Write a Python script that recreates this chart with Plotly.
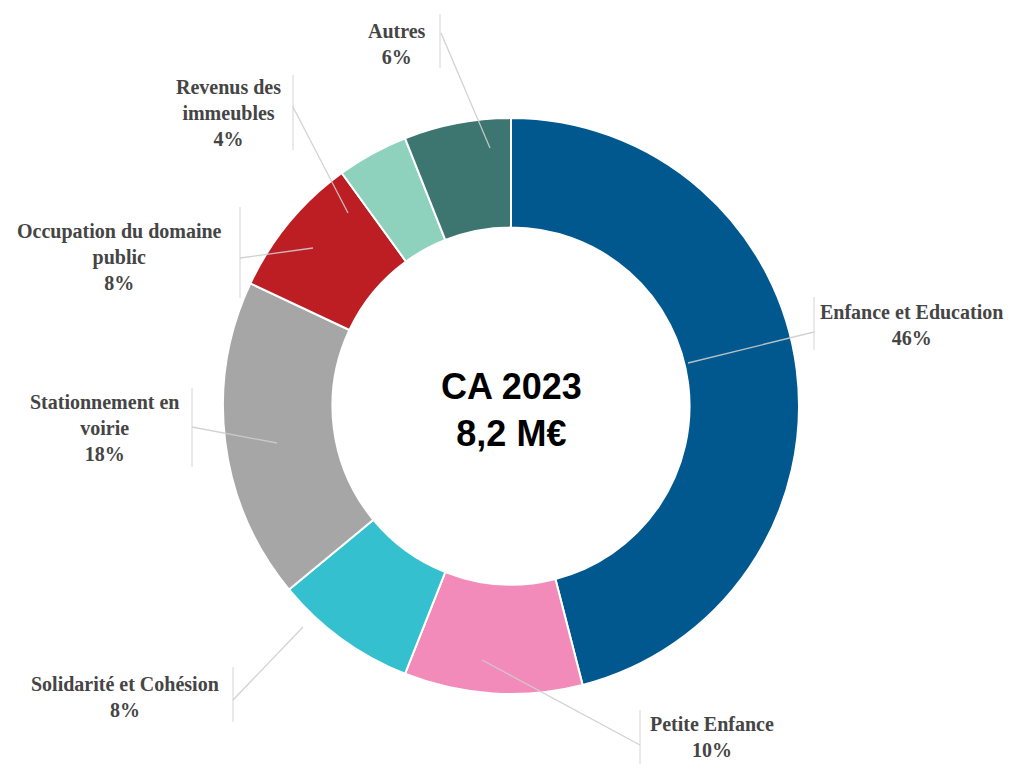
import plotly.graph_objects as go

W, H = 1015, 772
OFF = 8  # marge du body de la page
FW, FH = W - 2 * OFF, H - 2 * OFF

# données
categories = ["Enfance et Education", "Petite Enfance", "Solidarité et Cohésion",
              "Stationnement en voirie", "Occupation du domaine public",
              "Revenus des immeubles", "Autres"]
label_lines = ["Enfance et Education", "Petite Enfance", "Solidarité et Cohésion",
               "Stationnement en<br>voirie", "Occupation du domaine<br>public",
               "Revenus des<br>immeubles", "Autres"]
parts = [46, 10, 8, 18, 8, 4, 6]
colors = ["#01588f", "#f28bba", "#34c0ce", "#a6a6a6", "#bc1e24", "#8ed2be", "#3d7570"]
center_text = "CA 2023<br>8,2 M€"

# mise en page des étiquettes (pixels) : centre texte, barre verticale, départ du trait
label_layout = [
    dict(tx=911, ty=325, bx=814, by=(297, 350), lx=(814, 332), sx=(688, 363)),
    dict(tx=712, ty=737, bx=640, by=(710, 764), lx=(640, 745), sx=(482, 660)),
    dict(tx=125, ty=697, bx=233, by=(667, 722), lx=(233, 700), sx=(303, 627)),
    dict(tx=104, ty=428, bx=192, by=(388, 467), lx=(192, 427), sx=(277, 443)),
    dict(tx=119, ty=257, bx=240, by=(207, 298), lx=(240, 258), sx=(313, 248)),
    dict(tx=228, ty=113, bx=293, by=(75, 150), lx=(293, 107), sx=(348, 213)),
    dict(tx=397, ty=44, bx=440, by=(14, 68), lx=(441, 33), sx=(490, 148)),
]


def px(x, y):
    return (x - OFF) / FW, 1 - (y - OFF) / FH


cx, cy, R = 511, 406, 288
x0, y1 = px(cx - R, cy - R)
x1, y0 = px(cx + R, cy + R)

fig = go.Figure()
fig.add_trace(go.Pie(
    labels=categories,
    values=parts,
    hole=0.62,
    sort=False,
    direction="clockwise",
    rotation=0,
    marker=dict(colors=colors, line=dict(color="white", width=2)),
    textinfo="none",
    hoverinfo="label+percent",
    domain=dict(x=[x0, x1], y=[y0, y1]),
    showlegend=False,
))

annotations = []
shapes = []
for name, v, lay in zip(label_lines, parts, label_layout):
    tx, ty = px(lay["tx"], lay["ty"])
    annotations.append(dict(
        x=tx, y=ty, xref="paper", yref="paper", showarrow=False,
        xanchor="center", yanchor="middle",
        text=f"<b>{name}<br>{v}%</b>", align="center",
        font=dict(family="Liberation Serif", size=20, color="#454545"),
    ))
    bx, b0 = px(lay["bx"], lay["by"][0])
    _, b1 = px(lay["bx"], lay["by"][1])
    shapes.append(dict(type="line", xref="paper", yref="paper",
                       x0=bx, x1=bx, y0=b0, y1=b1,
                       line=dict(color="#d4d4d4", width=1)))
    ax, ay = px(*lay["lx"])
    sx, sy = px(*lay["sx"])
    shapes.append(dict(type="line", xref="paper", yref="paper",
                       x0=ax, y0=ay, x1=sx, y1=sy,
                       line=dict(color="rgba(205,205,205,0.9)", width=1.3)))

mx, my = px(cx, 410)
annotations.append(dict(
    x=mx, y=my, xref="paper", yref="paper", showarrow=False,
    xanchor="center", yanchor="middle",
    text=f"<b>{center_text}</b>", align="center",
    font=dict(family="Liberation Sans", size=36, color="#000000"),
))

fig.update_layout(
    width=FW, height=FH,
    margin=dict(l=0, r=0, t=0, b=0),
    paper_bgcolor="white",
    plot_bgcolor="white",
    annotations=annotations,
    shapes=shapes,
)

fig.write_html("out.html")
